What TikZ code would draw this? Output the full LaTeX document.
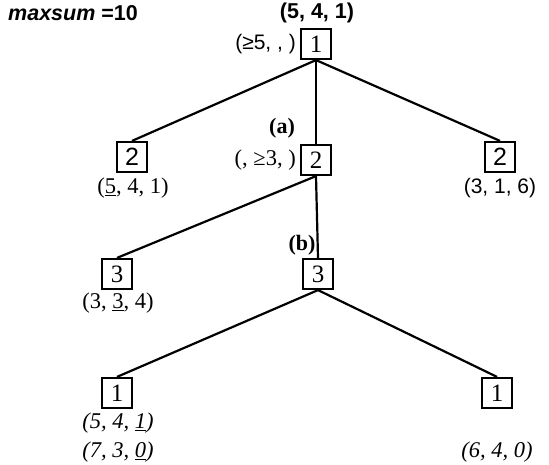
\documentclass[tikz,border=0pt]{standalone}
\usepackage{fontspec}
\setmainfont{Liberation Serif}
\setsansfont{Liberation Sans}
\begin{document}
\begin{tikzpicture}[x=1pt,y=-1pt,
  box/.style={draw, line width=2.2pt, minimum width=30pt, minimum height=30pt, inner sep=0pt, font=\fontsize{25}{25}\selectfont},
  lab/.style={inner sep=0pt, font=\fontsize{22.5}{22.5}\selectfont},
  ital/.style={inner sep=0pt, font=\fontsize{22.5}{22.5}\selectfont\itshape},
  hdr/.style={inner sep=0pt, font=\fontsize{21.5}{21.5}\selectfont\sffamily\bfseries},
  tag/.style={inner sep=0pt, font=\fontsize{22}{22}\selectfont\bfseries},
  edge/.style={line width=2.2pt}]
\useasboundingbox (0,0) rectangle (549,465);
% boxes
\node[box] (r) at (316,44) {1};
\node[box] (l2) at (132,157) {\sffamily 2};
\node[box] (m2) at (316,160) {2};
\node[box] (r2) at (500,157) {\sffamily 2};
\node[box] (l3) at (117,274) {3};
\node[box] (m3) at (318,274) {3};
\node[box] (l1) at (117,393) {1};
\node[box] (r1) at (497,393) {1};
% edges
\draw[edge] (r.south) -- (l2.north);
\draw[edge] (r.south) -- (m2.north);
\draw[edge] (r.south) -- (r2.north);
\draw[edge] (m2.south) -- (l3.north);
\draw[edge] (m2.south) -- (m3.north);
\draw[edge] (m3.south) -- (l1.north);
\draw[edge] (m3.south) -- (r1.north);
% labels
\node[hdr, anchor=west] (ms) at (8,13) {\itshape maxsum\upshape\ =10};
\node[hdr] (top) at (317,13) {(5, 4, 1)};
\node[lab, anchor=east, font=\fontsize{21}{21}\selectfont\sffamily] (ge5) at (296,44) {(≥5, , )};
\node[tag] (ta) at (282,128) {(a)};
\node[lab, anchor=east] (ge3) at (296,160) {(, ≥3, )};
\node[lab] (l2l) at (133,188) {(\underline{5}, 4, 1)};
\node[lab, font=\fontsize{21}{21}\selectfont\sffamily] (r2l) at (500,188) {(3, 1, 6)};
\node[tag] (tb) at (302,245) {(b)};
\node[lab] (l3l) at (118,303) {(3, \underline{3}, 4)};
\node[ital] (l1a) at (118,423) {(5, 4, \underline{1})};
\node[ital] (l1b) at (118,452) {(7, 3, \underline{0})};
\node[ital] (r1l) at (497,452) {(6, 4, 0)};
\end{tikzpicture}
\end{document}
